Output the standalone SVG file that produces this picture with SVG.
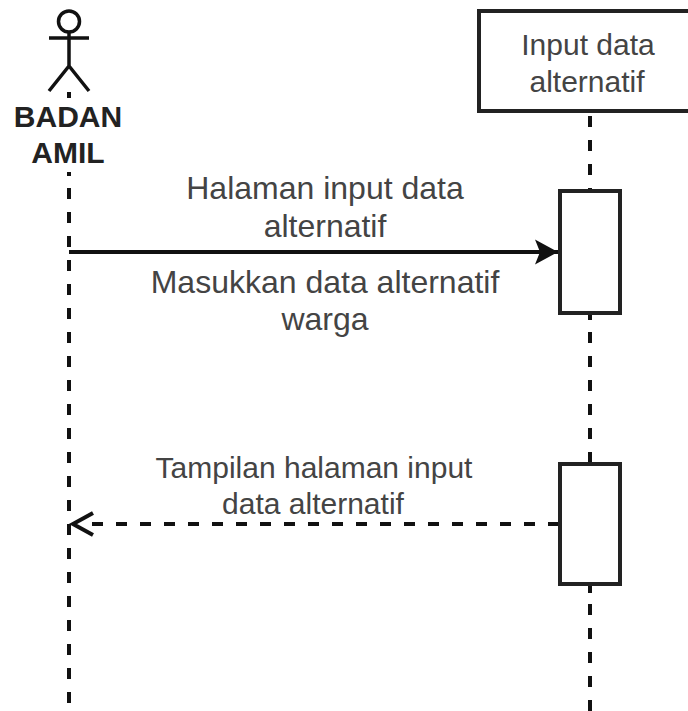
<svg xmlns="http://www.w3.org/2000/svg" width="688" height="711" viewBox="0 0 688 711">
<style>
.ln{fill:none;stroke:#111;stroke-width:3.5}
.dash{fill:none;stroke:#111;stroke-width:4;stroke-dasharray:11 13}
.box{fill:#fff;stroke:#222;stroke-width:4}
text{font-family:"Liberation Sans",Arial,sans-serif;font-size:30px;fill:#444;text-anchor:middle}
.big{font-size:32px}
.actor{font-size:30px;font-weight:bold;fill:#222}
</style>
<defs>
<marker id="solid" markerUnits="userSpaceOnUse" markerWidth="26" markerHeight="28" refX="24" refY="14" orient="auto"><path d="M1 1.5 L24 14 L1 26.5 L6 14 Z" fill="#111"/></marker>
<marker id="open" markerUnits="userSpaceOnUse" markerWidth="26" markerHeight="30" refX="22" refY="15" orient="auto"><path d="M1 4 L21 15 L1 26" fill="none" stroke="#111" stroke-width="4"/></marker>
</defs>
<rect width="688" height="711" fill="#fff"/>
<g id="connectors">
<path class="dash" d="M69 92V98M69 172V176M69 188V705"/>
<path class="dash" d="M590 116V191M590 313V320M590 332V464M590 584V593M590 604V711"/>
<path class="ln" d="M69 252H558" marker-end="url(#solid)" style="stroke-width:4"/>
<path class="dash" d="M559 524H91"/>
<path d="M73 524H72" fill="none" stroke="none" marker-end="url(#open)"/>
</g>
<g id="actor-badan-amil">
<circle cx="69" cy="21.5" r="10.5" class="ln"/>
<path class="ln" d="M69 32V66M49 38H89M49 91L69 66L89 91"/>
<text class="actor" x="68" y="127">BADAN</text>
<text class="actor" x="68" y="163">AMIL</text>
</g>
<g id="input-data-alternatif">
<rect class="box" x="479" y="11" width="222" height="100"/>
<text x="588" y="55">Input data</text>
<text x="587" y="92">alternatif</text>
</g>
<g id="activation-1"><rect class="box" x="560" y="191" width="60" height="122"/></g>
<g id="activation-2"><rect class="box" x="560" y="464" width="60" height="120"/></g>
<g id="labels">
<text class="big" x="325" y="199">Halaman input data</text>
<text class="big" x="325" y="237">alternatif</text>
<text class="big" x="325" y="293">Masukkan data alternatif</text>
<text class="big" x="325" y="330">warga</text>
<text x="314" y="478">Tampilan halaman input</text>
<text x="313" y="514">data alternatif</text>
</g>
</svg>
